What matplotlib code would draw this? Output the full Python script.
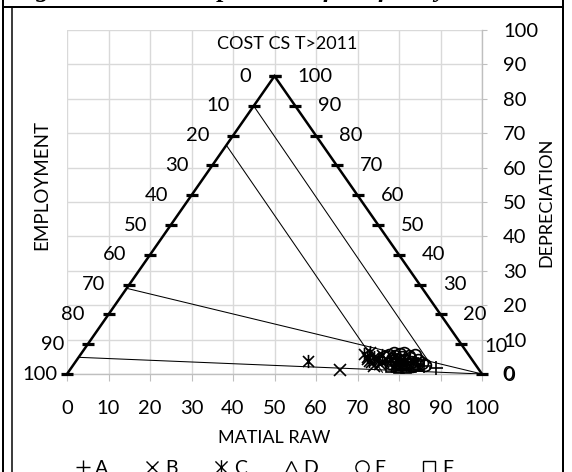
import numpy as np
import matplotlib
matplotlib.use("Agg")
from matplotlib import pyplot as plt
from matplotlib.path import Path
from matplotlib.lines import Line2D

plt.rcParams['font.family'] = ['Lato', 'DejaVu Sans']

# ternary scale labels along the two sloped edges
employment_ticks = [0, 10, 20, 30, 40, 50, 60, 70, 80, 90, 100]
depreciation_ticks = [100, 90, 80, 70, 60, 50, 40, 30, 20, 10, 0]
axis_ticks = [0, 10, 20, 30, 40, 50, 60, 70, 80, 90, 100]

# guide lines drawn from the employment edge (x, y pairs)
guide_1 = ([45.0, 87.5], [77.9, 3.0])
guide_2 = ([38.4, 76.0], [66.5, 0.5])
guide_3 = ([14.4, 100.0], [24.9, 0.0])
guide_4 = ([2.8, 100.0], [4.85, 0.0])

# observations by family
a_x = [88.9, 84.5, 80.2, 86.0]
a_y = [1.8, 3.0, 3.6, 2.2]
b_x = [65.8, 72.6, 73.5, 74.4, 75.4, 77.0, 74.0, 76.2]
b_y = [1.2, 4.4, 3.4, 4.1, 3.0, 4.2, 2.4, 3.6]
c_x = [58.0, 71.5, 72.3, 73.0, 74.0, 76.0, 72.8, 75.0]
c_y = [3.8, 5.8, 4.8, 6.3, 5.0, 5.5, 3.9, 4.4]
d_x = [78.5, 80.5, 82.0, 79.5, 83.5]
d_y = [4.0, 3.2, 4.5, 2.2, 3.0]
e_x = [76.5, 77.5, 78.2, 79.0, 79.8, 80.8, 81.5, 82.3, 83.0, 83.9, 84.6, 85.5, 86.3,
       77.8, 79.3, 80.6, 81.9, 83.2, 84.3, 78.8, 80.2, 81.2, 82.6]
e_y = [4.8, 5.5, 4.5, 5.3, 4.2, 5.0, 4.0, 5.2, 3.6, 5.4, 4.0, 3.2, 2.6,
       3.2, 3.6, 2.8, 3.0, 2.4, 2.9, 6.0, 5.8, 6.1, 4.6]
f_x = [79.5, 81.0, 82.5, 84.0, 83.0, 78.0, 80.0, 81.8]
f_y = [3.0, 2.5, 2.8, 2.4, 1.9, 2.0, 1.6, 1.8]

H = 100 * np.sqrt(3) / 2

fig = plt.figure(figsize=(5.72, 4.72), dpi=100)
ax = fig.add_axes([67 / 572, 98 / 472, 415 / 572, 344 / 472])
ax.set_xlim(0, 100)
ax.set_ylim(0, 100)
ax.set_axisbelow(True)

grid_col = '#d9d9d9'
ax.set_xticks(axis_ticks)
ax.set_yticks(axis_ticks)
ax.grid(True, color=grid_col, lw=1.0)
for s in ['left', 'top']:
    ax.spines[s].set_visible(False)
for s in ['bottom', 'right']:
    ax.spines[s].set_color('#bfbfbf')
    ax.spines[s].set_linewidth(1.0)
ax.yaxis.tick_right()
ax.tick_params(axis='x', direction='out', length=5, color='#bfbfbf', pad=14, labelsize=14.5)
ax.tick_params(axis='y', direction='out', length=3.6, color='#bfbfbf', pad=11.5, labelsize=14.5)

ax.set_xlabel('MATIAL RAW', fontsize=13, labelpad=9)
ax.yaxis.set_label_position('right')
ax.set_ylabel('DEPRECIATION', fontsize=13, labelpad=0)
fig.text(42 / 572, 1 - 185 / 472, 'EMPLOYMENT', rotation=90, fontsize=13.5,
         ha='center', va='center')
fig.text(287 / 572, 1 - 44 / 472, 'COST CS T>2011', fontsize=13, ha='center', va='center')

# triangle edges with dash ticks
lx = [50 - 0.5 * e for e in employment_ticks]
ly = [H * (1 - e / 100) for e in employment_ticks]
rx = [100 - 0.5 * d for d in depreciation_ticks]
ry = [H * d / 100 for d in depreciation_ticks]
ax.plot(lx, ly, color='black', lw=1.8, marker='_', ms=8, mew=2.3, clip_on=False, zorder=3)
ax.plot(rx, ry, color='black', lw=1.8, marker='_', ms=8, mew=2.3, clip_on=False, zorder=3)

for e, x, y in zip(employment_ticks, lx, ly):
    dx = -7 if e == 100 else -17
    ax.annotate(str(e), (x, y), xytext=(dx, 0), textcoords='offset points',
                ha='right', va='center', fontsize=14.5)
for d, x, y in zip(depreciation_ticks, rx, ry):
    dx = 15 if d == 0 else 16.5
    dy = -1.5 if d == 10 else 0
    ax.annotate(str(d), (x, y), xytext=(dx, dy), textcoords='offset points',
                ha='left', va='center', fontsize=14.5)

for gx, gy in [guide_1, guide_2, guide_3, guide_4]:
    ax.plot(gx, gy, color='black', lw=0.75, zorder=3)

star = Path([(-1, -1), (1, 1), (-1, 1), (1, -1), (0, -1.2), (0, 1.2)],
            [Path.MOVETO, Path.LINETO, Path.MOVETO, Path.LINETO, Path.MOVETO, Path.LINETO])

series = [
    ('A', a_x, a_y, '+', 9.5),
    ('B', b_x, b_y, 'x', 8),
    ('C', c_x, c_y, star, 9.5),
    ('D', d_x, d_y, '^', 8),
    ('E', e_x, e_y, 'o', 8.5),
    ('F', f_x, f_y, 's', 7.5),
]
handles = []
for name, xs, ys, mk, ms in series:
    ax.plot(xs, ys, ls='none', marker=mk, ms=ms, mfc='none', mec='black', mew=1.2,
            zorder=4, clip_on=False)
    handles.append(Line2D([], [], ls='none', marker=mk, ms=ms + 1, mfc='none',
                          mec='black', mew=1.0, label=name))

fig.legend(handles=handles, loc='center', bbox_to_anchor=(263 / 572, 1 - 468 / 472),
           ncol=6, frameon=False, fontsize=14, handlelength=1.0, handletextpad=0.15,
           columnspacing=1.75, borderpad=0, borderaxespad=0)

# caption from the page, cut off by the top of the frame
fig.text(12 / 572, 1 - 1.5 / 472, 'Figure 1. Cost composition of the family',
         family='Liberation Serif', style='italic', weight='bold', fontsize=18.8,
         ha='left', va='bottom')

# table borders around the chart
for x0, y0, x1, y1, w in [(3, 0, 3, 472, 2), (11.5, 7, 11.5, 472, 1.5),
                          (563, 0, 563, 472, 2), (3, 7, 563, 7, 2)]:
    fig.add_artist(Line2D([x0 / 572, x1 / 572], [1 - y0 / 472, 1 - y1 / 472],
                          color='black', lw=w * 0.72))

fig.savefig('out.png', dpi=100)
